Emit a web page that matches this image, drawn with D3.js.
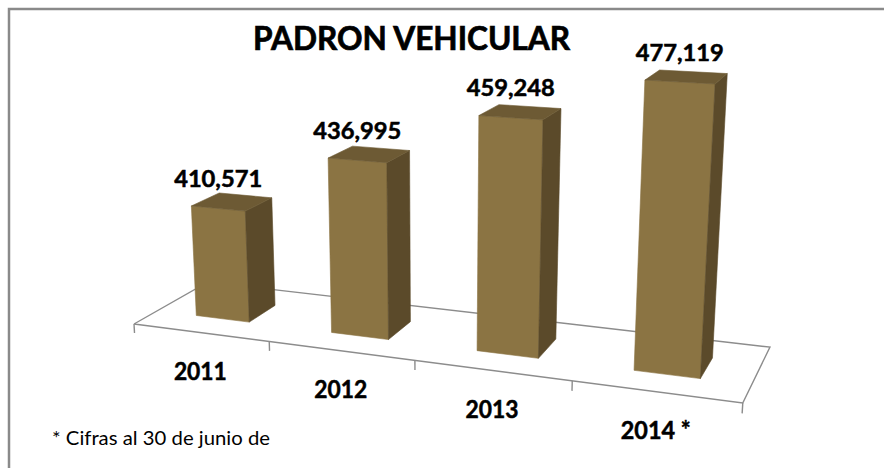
<!DOCTYPE html>
<html>
<head>
<meta charset="utf-8">
<script src="https://cdn.jsdelivr.net/npm/d3@7"></script>
<style>
  body { margin: 0; background: #fff; }
  svg { display: block; font-family: Lato, "Open Sans", sans-serif; }
</style>
</head>
<body>
<svg></svg>
<script>
// datos
const years = ["2011", "2012", "2013", "2014 *"];
const vehicles = [410571, 436995, 459248, 477119];
const title = "PADRON VEHICULAR";
const note = "* Cifras al 30 de junio de";

const width = 884;
const height = 468;
const svg = d3.select("svg").attr("width", width).attr("height", height);

// proyeccion en perspectiva: X categoria, t altura, Z profundidad
function proj(X, t, Z) {
	const w = 1 - 0.0358 * X + 0.0902 * Z + t;
	return [(134 + 125.6 * X + 92.76 * Z + 437 * t) / w,
	        (324 + 5.32 * X - 16.56 * Z + 5651 * t) / w];
}

const x = d3.scaleBand()
	.domain(years)
	.range([0, years.length])
	.paddingInner(0.6)
	.paddingOuter(0.3);

const y = d3.scaleLinear()
	.domain([360000, 500000])
	.range([0, -0.0566]);

const z0 = 0.3, z1 = 0.68;
const line = d3.line();

// marco
svg.append("rect")
	.attr("x", 9).attr("y", 9)
	.attr("width", width).attr("height", height)
	.attr("fill", "none")
	.attr("stroke", "#8a8a8a")
	.attr("stroke-width", 2.5);

// piso
const n = years.length;
const floor = svg.append("g")
	.attr("fill", "none")
	.attr("stroke", "#8c8c8c")
	.attr("stroke-width", 1.4);

floor.append("path")
	.attr("d", line([proj(0, 0, 0), proj(0, 0, 1), proj(n, 0, 1), proj(n, 0, 0), proj(0, 0, 0)]));

floor.selectAll(".tick")
	.data(d3.range(n + 1))
	.join("path")
	.attr("class", "tick")
	.attr("d", i => line([proj(i, 0, 0), proj(i, 0.0017, 0)]));

// barras
const bars = svg.append("g")
	.selectAll("g")
	.data(years)
	.join("g");

function faces(d, i) {
	const a = x(d), b = x(d) + x.bandwidth(), t = y(vehicles[i]);
	return [
		{ fill: "#8b7443", pts: [proj(a, 0, z0), proj(b, 0, z0), proj(b, t, z0), proj(a, t, z0)] },
		{ fill: "#5b4a2a", pts: [proj(b, 0, z0), proj(b, 0, z1), proj(b, t, z1), proj(b, t, z0)] },
		{ fill: "#6d5a34", pts: [proj(a, t, z0), proj(b, t, z0), proj(b, t, z1), proj(a, t, z1)] }
	];
}

bars.selectAll("path")
	.data((d, i) => faces(d, i))
	.join("path")
	.attr("d", f => line(f.pts) + "Z")
	.attr("fill", f => f.fill)
	.attr("stroke", f => f.fill)
	.attr("stroke-width", 0.6)
	.attr("stroke-linejoin", "round");

// etiquetas de valor
const fmt = d3.format(",");
svg.append("g")
	.selectAll("text")
	.data(years)
	.join("text")
	.attr("x", (d, i) => proj(x(d) + x.bandwidth() / 2, y(vehicles[i]), z0)[0])
	.attr("y", (d, i) => proj(x(d) + x.bandwidth() / 2, y(vehicles[i]), z0)[1] - 21.5)
	.attr("text-anchor", "middle")
	.attr("font-size", 22)
	.attr("font-weight", "bold")
	.attr("fill", "#000")
	.attr("stroke", "#000")
	.attr("stroke-width", 0.5)
	.attr("textLength", 88)
	.attr("lengthAdjust", "spacingAndGlyphs")
	.text((d, i) => fmt(vehicles[i]));

// etiquetas de categoria
svg.append("g")
	.selectAll("text")
	.data(years)
	.join("text")
	.attr("x", (d, i) => proj(i + 0.5, 0, 0)[0])
	.attr("y", (d, i) => proj(i + 0.5, 0, 0)[1] + 47.5)
	.attr("text-anchor", "middle")
	.attr("font-size", 24)
	.attr("font-weight", "bold")
	.attr("fill", "#000")
	.attr("stroke", "#000")
	.attr("stroke-width", 0.5)
	.attr("textLength", d => d.length > 4 ? 70 : 53)
	.attr("lengthAdjust", "spacingAndGlyphs")
	.text(d => d);

// titulo
svg.append("text")
	.attr("x", 411.5)
	.attr("y", 50)
	.attr("text-anchor", "middle")
	.attr("font-size", 32)
	.attr("font-weight", "bold")
	.attr("stroke", "#000")
	.attr("stroke-width", 0.7)
	.attr("textLength", 317)
	.attr("lengthAdjust", "spacingAndGlyphs")
	.text(title);

// nota
svg.append("text")
	.attr("x", 52)
	.attr("y", 445)
	.attr("font-size", 19)
	.attr("textLength", 218)
	.attr("lengthAdjust", "spacingAndGlyphs")
	.text(note);
</script>
</body>
</html>
